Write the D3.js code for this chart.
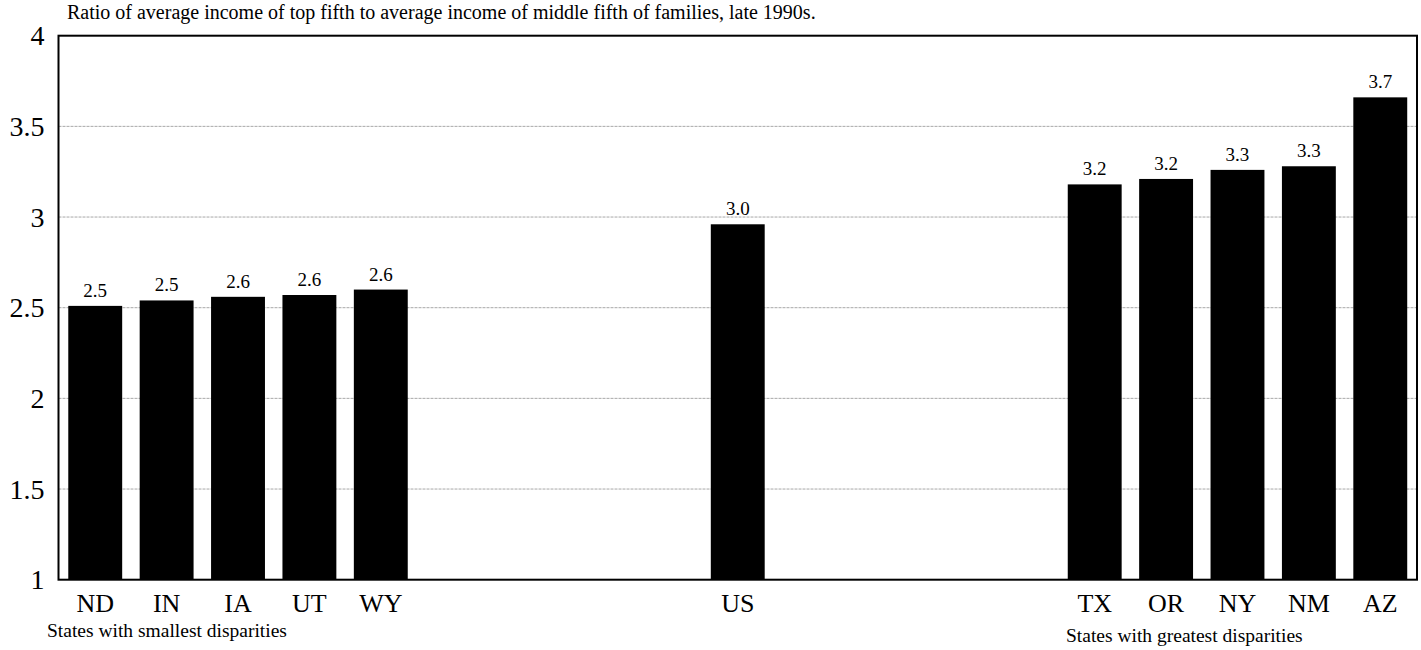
<!DOCTYPE html>
<html>
<head>
<meta charset="utf-8">
<script src="https://cdn.jsdelivr.net/npm/d3@7"></script>
<style>
  html, body { margin: 0; padding: 0; background: #fff; }
  svg { display: block; }
  svg text { font-family: "Liberation Serif", "Times New Roman", Times, serif !important; fill: #000; }
</style>
</head>
<body>
<svg id="chart" width="1421" height="650"></svg>
<script>
// Slots along the x axis; blank slots separate the three groups
const slots = ["ND", "IN", "IA", "UT", "WY", "_1", "_2", "_3", "_4", "US",
               "_5", "_6", "_7", "_8", "TX", "OR", "NY", "NM", "AZ"];
const states = ["ND", "IN", "IA", "UT", "WY", "US", "TX", "OR", "NY", "NM", "AZ"];
const ratios = [2.51, 2.54, 2.56, 2.57, 2.60, 2.96, 3.18, 3.21, 3.26, 3.28, 3.66];
const yTicks = [1, 1.5, 2, 2.5, 3, 3.5, 4];
const gridTicks = [1.5, 2, 2.5, 3, 3.5];
const title = "Ratio of average income of top fifth to average income of middle fifth of families, late 1990s.";
const groupNotes = ["States with smallest disparities", "States with greatest disparities"];

const svg = d3.select("#chart");
const plotLeft = 58.5, plotRight = 1417, plotTop = 35.7, plotBottom = 579.7;

const x = d3.scaleBand()
  .domain(slots)
  .range([plotLeft, plotRight])
  .paddingInner(0.245)
  .paddingOuter(0.137);

const y = d3.scaleLinear().domain([1, 4]).range([plotBottom, plotTop]);

// dashed horizontal gridlines
svg.append("g")
  .selectAll("line")
  .data(gridTicks)
  .join("line")
  .attr("x1", plotLeft).attr("x2", plotRight)
  .attr("y1", d => y(d)).attr("y2", d => y(d))
  .attr("stroke", "#a8a8a8")
  .attr("stroke-width", 1)
  .attr("stroke-dasharray", "3,1");

// bars
svg.append("g")
  .selectAll("rect")
  .data(states)
  .join("rect")
  .attr("x", d => x(d))
  .attr("width", x.bandwidth())
  .attr("y", (d, i) => y(ratios[i]))
  .attr("height", (d, i) => y(1) - y(ratios[i]))
  .attr("fill", "#000");

// value labels above bars
svg.append("g")
  .selectAll("text")
  .data(states)
  .join("text")
  .attr("x", d => x(d) + x.bandwidth() / 2)
  .attr("y", (d, i) => y(ratios[i]) - 9)
  .attr("text-anchor", "middle")
  .attr("font-size", 19)
  .text((d, i) => ratios[i].toFixed(1));

// plot frame
svg.append("rect")
  .attr("x", plotLeft).attr("y", plotTop)
  .attr("width", plotRight - plotLeft).attr("height", plotBottom - plotTop)
  .attr("fill", "none")
  .attr("stroke", "#000")
  .attr("stroke-width", 2);

// y axis tick labels
const yAxis = d3.axisLeft(y).tickValues(yTicks).tickSize(0).tickPadding(14)
  .tickFormat(d3.format("~g"));
svg.append("g")
  .attr("transform", `translate(${plotLeft},0)`)
  .call(yAxis)
  .call(g => g.select(".domain").remove())
  .call(g => g.selectAll("text").attr("font-size", 28));

// x axis category labels
const xAxis = d3.axisBottom(x).tickValues(states).tickSize(0).tickPadding(0);
svg.append("g")
  .attr("transform", `translate(0,${plotBottom})`)
  .call(xAxis)
  .call(g => g.select(".domain").remove())
  .call(g => g.selectAll("text")
    .attr("dy", null)
    .attr("y", 32)
    .attr("font-size", 26));

// title
svg.append("text")
  .attr("x", 67).attr("y", 19)
  .attr("font-size", 20)
  .text(title);

// group notes
svg.append("text")
  .attr("x", 47).attr("y", 637)
  .attr("font-size", 19.5)
  .text(groupNotes[0]);
svg.append("text")
  .attr("x", 1066).attr("y", 642)
  .attr("font-size", 19.5)
  .text(groupNotes[1]);
</script>
</body>
</html>
